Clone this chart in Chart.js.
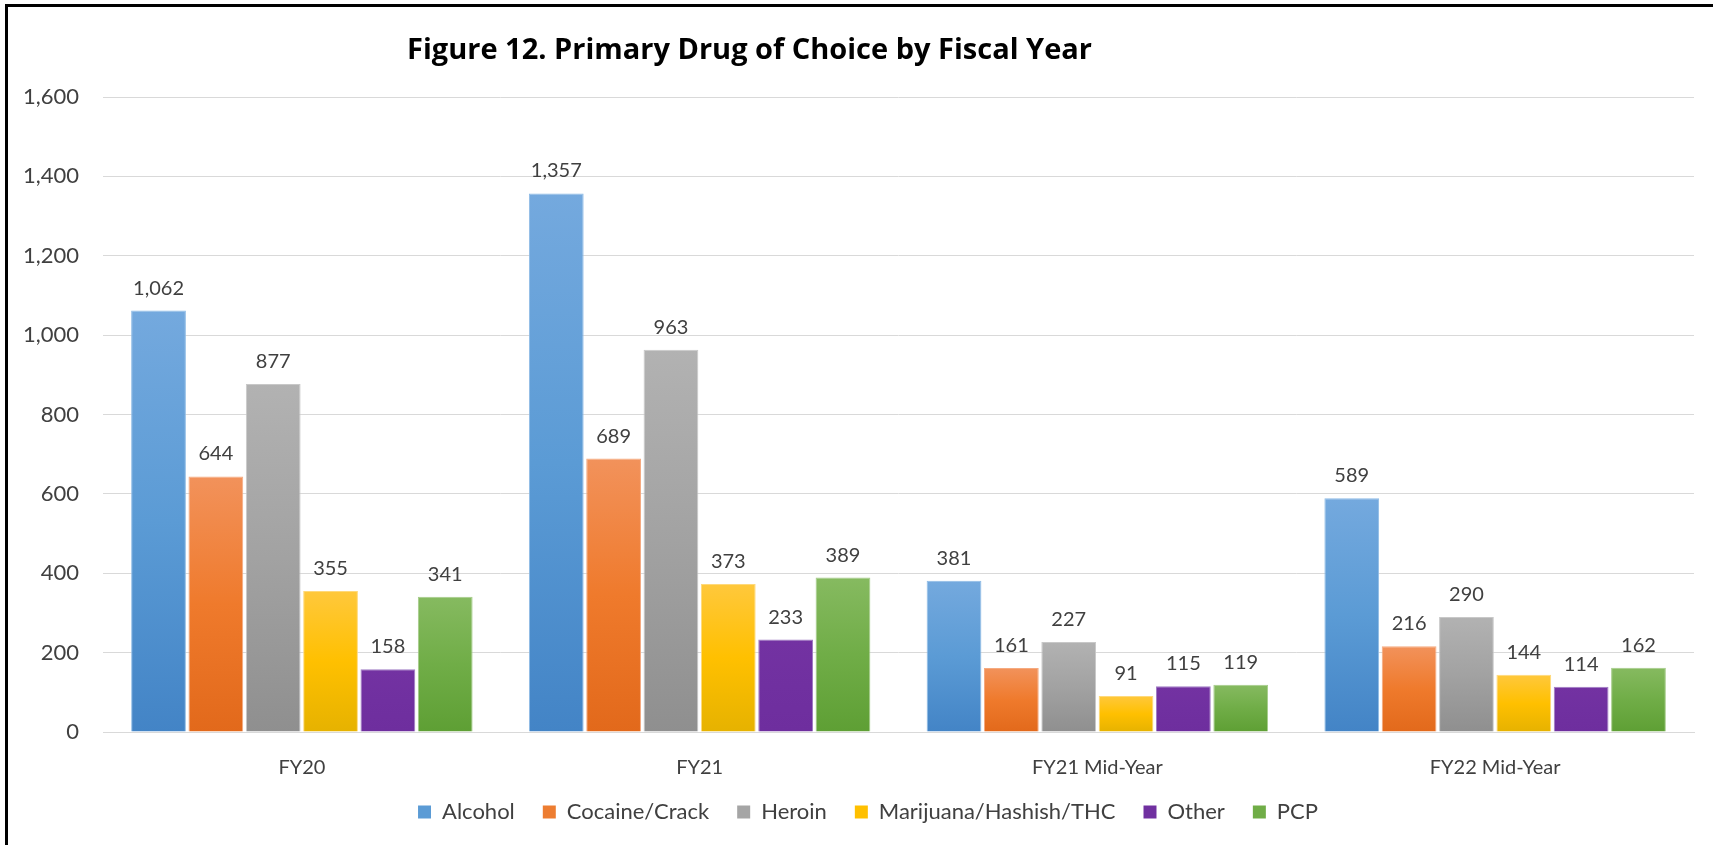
<!DOCTYPE html>
<html><head><meta charset="utf-8">
<script src="https://cdn.jsdelivr.net/npm/chart.js@4.4.1/dist/chart.umd.min.js"></script>
<style>
html,body{margin:0;padding:0;background:#fff;}
#wrap{position:relative;width:1713px;height:845px;overflow:hidden;background:#fff;}
#frame{position:absolute;left:5px;top:4px;right:-10px;bottom:-10px;border-left:3px solid #000;border-top:3px solid #000;pointer-events:none;}
#title{position:absolute;left:407px;top:31px;font:bold 29px "Open Sans", sans-serif;line-height:1.2;color:#000;white-space:nowrap;}
canvas{position:absolute;left:0;top:0;}
</style></head><body>
<div id="wrap"><canvas id="c" width="1713" height="845"></canvas><div id="frame"></div><div id="title">Figure 12. Primary Drug of Choice by Fiscal Year</div></div>
<script>
const categories = ['FY20', 'FY21', 'FY21 Mid-Year', 'FY22 Mid-Year'];
const seriesNames = ['Alcohol', 'Cocaine/Crack', 'Heroin', 'Marijuana/Hashish/THC', 'Other', 'PCP'];
const alcohol   = [1062, 1357, 381, 589];
const cocaine   = [644, 689, 161, 216];
const heroin    = [877, 963, 227, 290];
const marijuana = [355, 373, 91, 144];
const other     = [158, 233, 115, 114];
const pcp       = [341, 389, 119, 162];
const yTickValues = [0, 200, 400, 600, 800, 1000, 1200, 1400, 1600];

const seriesValues = [alcohol, cocaine, heroin, marijuana, other, pcp];
const palette = [
  {base:'#5B9BD5', top:'#74A9DE', mid:'#5B9BD5', bot:'#4384C6', edge:'#8DBBE6'},
  {base:'#ED7D31', top:'#F2925B', mid:'#EF7A2C', bot:'#E2691B', edge:'#F5AA80'},
  {base:'#A5A5A5', top:'#B2B2B2', mid:'#A2A2A2', bot:'#8F8F8F', edge:'#C8C8C8'},
  {base:'#FFC000', top:'#FFC83C', mid:'#FFC000', bot:'#E6B200', edge:'#FFD97A'},
  {base:'#7030A0', top:'#7332A2', mid:'#7030A0', bot:'#6E2E9E', edge:'#A07CC4'},
  {base:'#70AD47', top:'#86BA60', mid:'#70AD47', bot:'#5E9F34', edge:'#A4CC88'}
];

function gradFor(i){
  return function(ctx){
    const p = palette[i];
    const chart = ctx.chart;
    if (ctx.type !== 'data' || !chart.chartArea) return p.base;
    const ys = chart.scales.y;
    const top = ys.getPixelForValue(ctx.raw);
    const bot = ys.getPixelForValue(0);
    if (!(bot - top > 1)) return p.base;
    const g = chart.ctx.createLinearGradient(0, top, 0, bot);
    g.addColorStop(0, p.top);
    g.addColorStop(0.5, p.mid);
    g.addColorStop(1, p.bot);
    return g;
  };
}

const datasets = seriesNames.map((name, i) => ({
  label: name,
  data: seriesValues[i],
  backgroundColor: gradFor(i),
  borderColor: palette[i].edge,
  borderWidth: 1,
  categoryPercentage: 0.865,
  barPercentage: 0.955
}));

const valueLabels = {
  id: 'valueLabels',
  afterDatasetsDraw(chart){
    const c = chart.ctx;
    c.save();
    c.font = '20px Lato, sans-serif';
    c.fillStyle = '#404040';
    c.textAlign = 'center';
    c.textBaseline = 'alphabetic';
    chart.data.datasets.forEach((ds, di) => {
      const meta = chart.getDatasetMeta(di);
      meta.data.forEach((bar, j) => {
        c.fillText(ds.data[j].toLocaleString('en-US'), bar.x, bar.y - 16);
      });
    });
    c.restore();
  }
};

const legendShift = {
  id: 'legendShift',
  afterLayout(chart){
    const lg = chart.legend;
    if (!lg) return;
    lg.left += 21; lg.right += 21;
    lg.top -= 11; lg.bottom -= 11;
  }
};

new Chart(document.getElementById('c'), {
  type: 'bar',
  data: { labels: categories, datasets },
  options: {
    responsive: false,
    animation: false,
    layout: { padding: { left: 0, right: 19, top: 97, bottom: 1 } },
    plugins: {
      title: { display: false },
      tooltip: { enabled: false },
      legend: {
        position: 'bottom',
        labels: {
          boxWidth: 13, boxHeight: 13, padding: 28,
          color: '#404040',
          font: { family: 'Lato, sans-serif', size: 22 },
          generateLabels(chart){
            return chart.data.datasets.map((ds, i) => ({
              text: ds.label, fillStyle: palette[i].base, strokeStyle: palette[i].base,
              lineWidth: 0, hidden: false, datasetIndex: i, fontColor: '#404040'
            }));
          }
        }
      }
    },
    scales: {
      x: {
        grid: { display: false },
        border: { display: true, color: '#D9D9D9', width: 1 },
        ticks: { color: '#404040', font: { family: 'Lato, sans-serif', size: 20 }, padding: 16 },
        afterFit(s){ s.height = 52; }
      },
      y: {
        min: 0, max: 1600,
        border: { display: false },
        grid: { color: '#D9D9D9', drawTicks: false, lineWidth: 1 },
        afterBuildTicks(s){ s.ticks = yTickValues.map(v => ({ value: v })); },
        ticks: {
          color: '#404040', padding: 24,
          font: { family: 'Lato, sans-serif', size: 22 },
          callback: v => Number(v).toLocaleString('en-US')
        },
        afterFit(s){ s.width = 103; }
      }
    }
  },
  plugins: [valueLabels, legendShift]
});
</script>
</body></html>
